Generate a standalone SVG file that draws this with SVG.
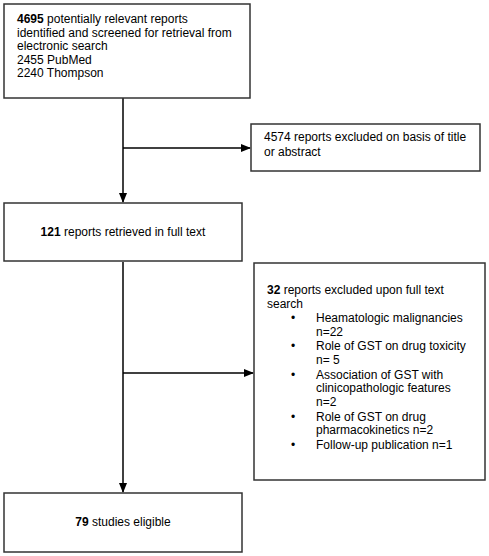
<svg xmlns="http://www.w3.org/2000/svg" width="489" height="556" viewBox="0 0 489 556">
<style>
.box{fill:#fff;stroke:#333;stroke-width:1.5}
text{font-family:"Liberation Sans",Arial,sans-serif;font-size:12px;fill:#000}
.b{font-weight:bold}
.c{text-anchor:middle}
.ln{stroke:#000;stroke-width:1.5;fill:none}
</style>
<defs>
<marker id="ah" markerWidth="10" markerHeight="8" refX="9" refY="4" orient="auto" markerUnits="userSpaceOnUse">
<path d="M0,0 L10,4 L0,8 Z" fill="#000"/>
</marker>
</defs>
<rect width="489" height="556" fill="#fff"/>
<g id="connectors">
<line class="ln" x1="123" y1="98" x2="123" y2="202" marker-end="url(#ah)"/>
<line class="ln" x1="123" y1="148" x2="250" y2="148" marker-end="url(#ah)"/>
<line class="ln" x1="123" y1="262" x2="123" y2="492" marker-end="url(#ah)"/>
<line class="ln" x1="123" y1="373" x2="253" y2="373" marker-end="url(#ah)"/>
</g>
<g id="n1">
<rect class="box" x="4" y="4" width="246" height="94"/>
<text x="17" y="23"><tspan class="b">4695</tspan> potentially relevant reports</text>
<text x="17" y="37">identified and screened for retrieval from</text>
<text x="17" y="50">electronic search</text>
<text x="17" y="64">2455 PubMed</text>
<text x="17" y="77">2240 Thompson</text>
</g>
<g id="n2">
<rect class="box" x="251" y="124" width="229" height="47"/>
<text x="264" y="141">4574 reports excluded on basis of title</text>
<text x="264" y="156">or abstract</text>
</g>
<g id="n3">
<rect class="box" x="4" y="203" width="238" height="58"/>
<text class="c" x="123" y="236"><tspan class="b">121</tspan> reports retrieved in full text</text>
</g>
<g id="n4">
<rect class="box" x="254" y="263" width="231" height="217"/>
<text x="267" y="294"><tspan class="b">32</tspan> reports excluded upon full text</text>
<text x="267" y="308">search</text>
<text x="291" y="322">•</text><text x="316" y="322">Heamatologic malignancies</text>
<text x="316" y="336">n=22</text>
<text x="291" y="350">•</text><text x="316" y="350">Role of GST on drug toxicity</text>
<text x="316" y="364">n= 5</text>
<text x="291" y="379">•</text><text x="316" y="379">Association of GST with</text>
<text x="316" y="392">clinicopathologic features</text>
<text x="316" y="406">n=2</text>
<text x="291" y="421">•</text><text x="316" y="421">Role of GST on drug</text>
<text x="316" y="434">pharmacokinetics n=2</text>
<text x="291" y="449">•</text><text x="316" y="449">Follow-up publication n=1</text>
</g>
<g id="n5">
<rect class="box" x="4" y="493" width="238" height="59"/>
<text class="c" x="123" y="526"><tspan class="b">79</tspan> studies eligible</text>
</g>
</svg>
